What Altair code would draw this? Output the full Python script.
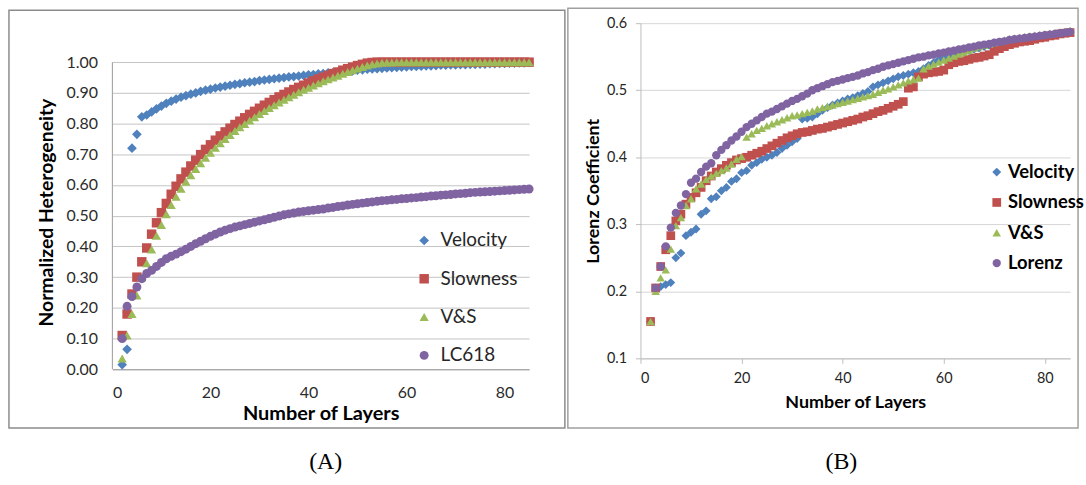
import altair as alt
import pandas as pd

# Number of layers (x) shared by every series
LAYERS = [2, 3, 4, 5, 6, 7, 8, 9, 10, 11,
          12, 13, 14, 15, 16, 17, 18, 19, 20, 21,
          22, 23, 24, 25, 26, 27, 28, 29, 30, 31,
          32, 33, 34, 35, 36, 37, 38, 39, 40, 41,
          42, 43, 44, 45, 46, 47, 48, 49, 50, 51,
          52, 53, 54, 55, 56, 57, 58, 59, 60, 61,
          62, 63, 64, 65, 66, 67, 68, 69, 70, 71,
          72, 73, 74, 75, 76, 77, 78, 79, 80, 81,
          82, 83, 84, 85]

# ---- Panel (A): normalized heterogeneity ----
A_SERIES = ["Velocity", "Slowness", "V&S", "LC618"]

A_VELOCITY = [0.015, 0.065, 0.720, 0.765, 0.822, 0.828, 0.838, 0.848, 0.857, 0.866,
              0.873, 0.880, 0.886, 0.891, 0.896, 0.900, 0.905, 0.909, 0.912, 0.916,
              0.919, 0.922, 0.925, 0.928, 0.930, 0.933, 0.935, 0.937, 0.940, 0.942,
              0.944, 0.946, 0.948, 0.950, 0.952, 0.953, 0.955, 0.957, 0.959, 0.960,
              0.962, 0.963, 0.965, 0.966, 0.968, 0.969, 0.971, 0.972, 0.974, 0.975,
              0.977, 0.978, 0.979, 0.980, 0.981, 0.982, 0.983, 0.984, 0.985, 0.986,
              0.986, 0.987, 0.988, 0.988, 0.989, 0.990, 0.990, 0.991, 0.991, 0.992,
              0.992, 0.993, 0.993, 0.994, 0.994, 0.995, 0.995, 0.996, 0.996, 0.997,
              0.997, 0.998, 0.998, 0.999]

A_SLOWNESS = [0.110, 0.180, 0.245, 0.300, 0.350, 0.395, 0.440, 0.477, 0.510, 0.540,
              0.570, 0.596, 0.620, 0.642, 0.662, 0.681, 0.699, 0.716, 0.731, 0.746,
              0.760, 0.773, 0.785, 0.797, 0.808, 0.819, 0.830, 0.840, 0.850, 0.860,
              0.869, 0.878, 0.887, 0.895, 0.903, 0.911, 0.918, 0.925, 0.932, 0.939,
              0.945, 0.951, 0.957, 0.963, 0.968, 0.974, 0.979, 0.984, 0.989, 0.993,
              0.997, 0.999, 1.000, 1.000, 1.000, 1.000, 1.000, 1.000, 1.000, 1.000,
              1.000, 1.000, 1.000, 1.000, 1.000, 1.000, 1.000, 1.000, 1.000, 1.000,
              1.000, 1.000, 1.000, 1.000, 1.000, 1.000, 1.000, 1.000, 1.000, 1.000,
              1.000, 1.000, 1.000, 1.000]

A_VS = [0.035, 0.110, 0.180, 0.240, 0.300, 0.345, 0.390, 0.435, 0.470, 0.505,
        0.535, 0.562, 0.588, 0.611, 0.632, 0.652, 0.671, 0.689, 0.705, 0.721,
        0.736, 0.750, 0.763, 0.776, 0.788, 0.799, 0.810, 0.821, 0.831, 0.841,
        0.851, 0.860, 0.869, 0.878, 0.886, 0.894, 0.902, 0.910, 0.917, 0.924,
        0.931, 0.938, 0.944, 0.950, 0.956, 0.962, 0.968, 0.974, 0.979, 0.984,
        0.989, 0.993, 0.996, 0.998, 0.999, 0.999, 1.000, 1.000, 1.000, 1.000,
        1.000, 1.000, 1.000, 1.000, 1.000, 1.000, 1.000, 1.000, 1.000, 1.000,
        1.000, 1.000, 1.000, 1.000, 1.000, 1.000, 1.000, 1.000, 1.000, 1.000,
        1.000, 1.000, 1.000, 1.000]

A_LC618 = [0.100, 0.205, 0.237, 0.268, 0.295, 0.312, 0.322, 0.335, 0.348, 0.360,
           0.368, 0.375, 0.383, 0.391, 0.400, 0.409, 0.417, 0.425, 0.433, 0.440,
           0.447, 0.453, 0.458, 0.463, 0.467, 0.471, 0.475, 0.479, 0.483, 0.487,
           0.491, 0.495, 0.499, 0.503, 0.506, 0.509, 0.512, 0.514, 0.516, 0.518,
           0.520, 0.522, 0.525, 0.527, 0.530, 0.532, 0.535, 0.537, 0.539, 0.541,
           0.543, 0.545, 0.547, 0.549, 0.550, 0.552, 0.553, 0.555, 0.556, 0.558,
           0.559, 0.561, 0.562, 0.564, 0.565, 0.567, 0.568, 0.569, 0.571, 0.572,
           0.573, 0.575, 0.576, 0.577, 0.578, 0.579, 0.580, 0.581, 0.582, 0.583,
           0.584, 0.585, 0.586, 0.587]

# ---- Panel (B): Lorenz coefficient ----
B_SERIES = ["Velocity", "Slowness", "V&S", "Lorenz"]

B_VELOCITY = [0.155, 0.202, 0.207, 0.210, 0.213, 0.250, 0.257, 0.283, 0.288, 0.293,
              0.315, 0.320, 0.338, 0.341, 0.350, 0.355, 0.364, 0.368, 0.377, 0.380,
              0.388, 0.392, 0.397, 0.400, 0.403, 0.407, 0.413, 0.418, 0.423, 0.428,
              0.457, 0.458, 0.460, 0.465, 0.470, 0.474, 0.478, 0.481, 0.484, 0.487,
              0.489, 0.492, 0.495, 0.498, 0.505, 0.508, 0.511, 0.514, 0.517, 0.520,
              0.522, 0.524, 0.526, 0.528, 0.532, 0.537, 0.541, 0.545, 0.548, 0.551,
              0.553, 0.555, 0.557, 0.559, 0.561, 0.563, 0.565, 0.567, 0.569, 0.571,
              0.572, 0.574, 0.575, 0.577, 0.578, 0.579, 0.580, 0.581, 0.582, 0.583,
              0.584, 0.585, 0.586, 0.587]

B_SLOWNESS = [0.155, 0.205, 0.237, 0.262, 0.283, 0.305, 0.315, 0.330, 0.340, 0.347,
              0.355, 0.365, 0.372, 0.378, 0.383, 0.388, 0.392, 0.396, 0.398, 0.400,
              0.403, 0.406, 0.409, 0.413, 0.417, 0.421, 0.425, 0.429, 0.432, 0.435,
              0.437, 0.438, 0.440, 0.442, 0.443, 0.445, 0.447, 0.449, 0.451, 0.453,
              0.455, 0.457, 0.460, 0.462, 0.465, 0.468, 0.470, 0.473, 0.476, 0.479,
              0.483, 0.503, 0.505, 0.520, 0.524, 0.526, 0.527, 0.528, 0.530, 0.538,
              0.541, 0.543, 0.544, 0.546, 0.548, 0.549, 0.551, 0.553, 0.558, 0.562,
              0.565, 0.568, 0.570, 0.572, 0.573, 0.574, 0.576, 0.578, 0.579, 0.581,
              0.582, 0.584, 0.585, 0.586]

B_VS = [0.155, 0.200, 0.220, 0.232, 0.263, 0.298, 0.310, 0.328, 0.338, 0.353,
        0.360, 0.367, 0.372, 0.376, 0.380, 0.384, 0.390, 0.397, 0.401, 0.430,
        0.435, 0.440, 0.443, 0.447, 0.450, 0.453, 0.456, 0.459, 0.462, 0.463,
        0.465, 0.467, 0.469, 0.472, 0.474, 0.476, 0.478, 0.480, 0.482, 0.484,
        0.486, 0.488, 0.490, 0.492, 0.494, 0.497, 0.500, 0.502, 0.505, 0.508,
        0.511, 0.514, 0.516, 0.518, 0.532, 0.536, 0.539, 0.542, 0.545, 0.548,
        0.551, 0.554, 0.557, 0.560, 0.563, 0.565, 0.567, 0.569, 0.571, 0.573,
        0.575, 0.577, 0.578, 0.579, 0.580, 0.581, 0.582, 0.583, 0.584, 0.585,
        0.586, 0.587, 0.588, 0.589]

B_LORENZ = [None, 0.205, 0.237, 0.267, 0.295, 0.317, 0.328, 0.345, 0.362, 0.368,
            0.378, 0.386, 0.391, 0.403, 0.411, 0.418, 0.425, 0.431, 0.438, 0.445,
            0.450, 0.455, 0.460, 0.465, 0.468, 0.472, 0.476, 0.480, 0.484, 0.487,
            0.491, 0.495, 0.500, 0.503, 0.506, 0.509, 0.512, 0.514, 0.516, 0.518,
            0.520, 0.522, 0.525, 0.527, 0.530, 0.532, 0.535, 0.537, 0.539, 0.541,
            0.543, 0.545, 0.547, 0.549, 0.550, 0.552, 0.553, 0.555, 0.556, 0.558,
            0.559, 0.561, 0.562, 0.564, 0.565, 0.567, 0.568, 0.569, 0.571, 0.572,
            0.573, 0.575, 0.576, 0.577, 0.578, 0.579, 0.580, 0.581, 0.582, 0.583,
            0.584, 0.585, 0.586, 0.587]

X_TICKS = [0, 20, 40, 60, 80]
A_Y_TICKS = [0.0, 0.1, 0.2, 0.3, 0.4, 0.5, 0.6, 0.7, 0.8, 0.9, 1.0]
B_Y_TICKS = [0.1, 0.2, 0.3, 0.4, 0.5, 0.6]

COLORS = ["#4F81BD", "#C0504D", "#9BBB59", "#8064A2"]
SHAPES = ["diamond", "square", "triangle-up", "circle"]

FONT = "Lato"
SERIF = "Liberation Serif"


def long_table(names, columns):
    rows = []
    for name, vals in zip(names, columns):
        for x, v in zip(LAYERS, vals):
            if v is not None:
                rows.append({"layers": x, "value": v, "series": name})
    return pd.DataFrame(rows)


df_a = long_table(A_SERIES, [A_VELOCITY, A_SLOWNESS, A_VS, A_LC618])
df_b = long_table(B_SERIES, [B_VELOCITY, B_SLOWNESS, B_VS, B_LORENZ])
one_row = pd.DataFrame({"k": [0]})

# plot-area sizes (pixels)
A_W, A_H = 419, 348
B_W, B_H = 432, 337
A_YMAX = 1.127  # headroom above 1.00 so panel (A) sits lower than (B)

# ---------------- Panel (A) ----------------
x_scale_a = alt.Scale(domain=[0, 85], nice=False, zero=False)
y_scale_a = alt.Scale(domain=[0, A_YMAX], nice=False, zero=False)

x_axis_a = alt.Axis(values=X_TICKS, title="Number of Layers", grid=False,
                    ticks=False, domainColor="#9a9a9a", domainWidth=1,
                    labelFont=FONT, labelFontSize=16, labelColor="#2b2b2b",
                    labelPadding=15, labelOverlap=False, titleFont=FONT,
                    titleFontSize=20, titleFontWeight="bold",
                    titleColor="#000000", titlePadding=3)
y_axis_a = alt.Axis(values=A_Y_TICKS, format=".2f", title="Normalized Heterogeneity",
                    domain=False, ticks=False, grid=True, gridColor="#c4c4c4",
                    gridWidth=1, labelFont=FONT, labelFontSize=16,
                    labelColor="#2b2b2b", labelPadding=15, labelOverlap=False,
                    titleFont=FONT, titleFontSize=19.5, titleFontWeight="bold",
                    titleColor="#000000", titlePadding=10, titleY=190)

legend_a = alt.Legend(
    title=None, orient="none", legendX=304, legendY=209, padding=0,
    labelFont=FONT, labelFontSize=19, labelColor="#262626", labelOffset=7,
    symbolSize=55, symbolStrokeWidth=0, symbolOpacity=1, rowPadding=18.5,
)

points_a = alt.Chart(df_a).mark_point(filled=True, opacity=1).encode(
    x=alt.X("layers:Q", scale=x_scale_a, axis=x_axis_a),
    y=alt.Y("value:Q", scale=y_scale_a, axis=y_axis_a),
    color=alt.Color("series:N", scale=alt.Scale(domain=A_SERIES, range=COLORS),
                    legend=legend_a),
    shape=alt.Shape("series:N", scale=alt.Scale(domain=A_SERIES, range=SHAPES),
                    legend=legend_a),
    size=alt.Size("series:N", scale=alt.Scale(domain=A_SERIES, range=[95, 81, 110, 100]),
                  legend=None),
)

# left axis line, drawn only from 0.00 up to 1.00
axis_line_df = pd.DataFrame({"layers": [0], "value": [0.0], "value_top": [1.0]})
axis_line_a = alt.Chart(axis_line_df).mark_rule(color="#9a9a9a", strokeWidth=1).encode(
    x=alt.X("layers:Q", scale=x_scale_a, axis=x_axis_a),
    y=alt.Y("value:Q", scale=y_scale_a, axis=y_axis_a),
    y2="value_top:Q",
)

frame_a = alt.Chart(one_row).mark_rect(
    fill="transparent", stroke="#8c8c8c", strokeWidth=1.5
).encode(
    x=alt.value(-104), x2=alt.value(455), y=alt.value(-13), y2=alt.value(407)
)

panel_a = alt.layer(frame_a, axis_line_a, points_a).properties(
    width=A_W, height=A_H,
    title=alt.TitleParams("(A)", orient="bottom", anchor="middle", frame="group",
                          font=SERIF, fontSize=24, fontWeight="normal",
                          color="#000000", offset=22, dx=5),
)

# ---------------- Panel (B) ----------------
legend_b = alt.Legend(
    title=None, orient="none", legendX=349, legendY=140.5, padding=0,
    labelFont=FONT, labelFontSize=18.5, labelFontWeight="bold", labelColor="#000000",
    labelOffset=2, symbolSize=45, symbolStrokeWidth=0, symbolOpacity=1,
    rowPadding=11.5,
)

points_b = alt.Chart(df_b).mark_point(filled=True, opacity=1).encode(
    x=alt.X("layers:Q", scale=alt.Scale(domain=[0, 85], nice=False, zero=False),
            axis=alt.Axis(values=X_TICKS, title="Number of Layers", grid=False,
                          ticks=True, tickSize=5, tickColor="#bdbdbd",
                          domainColor="#bdbdbd", labelFont=FONT, labelFontSize=14.5,
                          labelColor="#262626", labelPadding=8, titleFont=FONT,
                          titleFontSize=18, titleFontWeight="bold",
                          titleColor="#000000", titlePadding=9)),
    y=alt.Y("value:Q", scale=alt.Scale(domain=[0.1, 0.6], nice=False, zero=False),
            axis=alt.Axis(values=B_Y_TICKS, format=".1f", title="Lorenz Coefficient",
                          grid=True, gridColor="#d6d6d6", ticks=True, tickSize=5,
                          tickColor="#bdbdbd", domainColor="#bdbdbd",
                          labelFont=FONT, labelFontSize=14.5, labelColor="#262626",
                          labelPadding=9, labelOverlap=False, titleFont=FONT,
                          titleFontSize=18, titleFontWeight="bold",
                          titleColor="#000000", titlePadding=4)),
    color=alt.Color("series:N", scale=alt.Scale(domain=B_SERIES, range=COLORS),
                    legend=legend_b),
    shape=alt.Shape("series:N", scale=alt.Scale(domain=B_SERIES, range=SHAPES),
                    legend=legend_b),
    size=alt.Size("series:N", scale=alt.Scale(domain=B_SERIES, range=[80, 70, 90, 85]),
                  legend=None),
)

frame_b = alt.Chart(one_row).mark_rect(
    fill="transparent", stroke="#a0a0a0", strokeWidth=1.5
).encode(
    x=alt.value(-73), x2=alt.value(440), y=alt.value(-15), y2=alt.value(407)
)

panel_b = alt.layer(frame_b, points_b).properties(
    width=B_W, height=B_H,
    title=alt.TitleParams("(B)", orient="bottom", anchor="middle", frame="group",
                          font=SERIF, fontSize=24, fontWeight="normal",
                          color="#000000", offset=22, dx=-14),
)

chart = alt.hconcat(panel_a, panel_b, spacing=112, bounds="flush").resolve_scale(
    color="independent", shape="independent", size="independent"
).properties(
    padding={"left": 7, "top": 5, "right": 0, "bottom": 0},
    background="#ffffff",
).configure_view(stroke="transparent")

chart.save("out.html", embed_options={"renderer": "svg", "actions": False})
